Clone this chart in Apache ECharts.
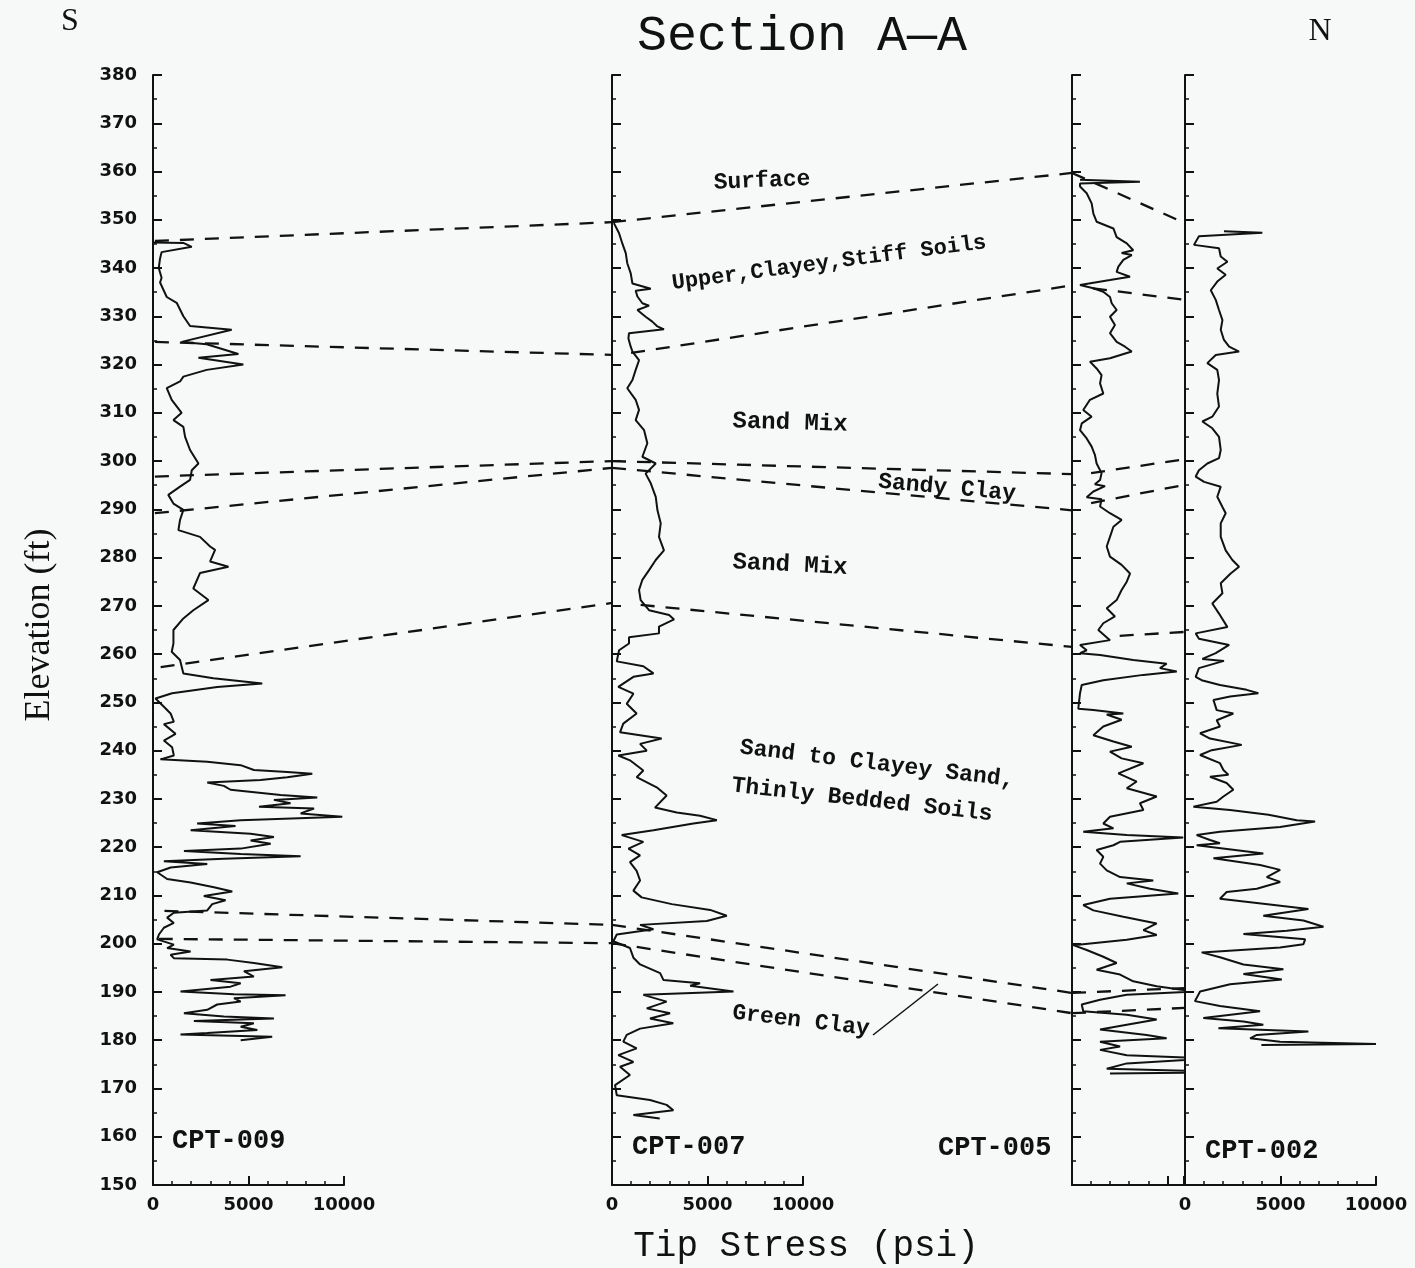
<!DOCTYPE html>
<html lang="en">
<head>
<meta charset="utf-8">
<title>Section A-A</title>
<script src="https://cdn.jsdelivr.net/npm/echarts@6/dist/echarts.min.js"></script>
<style>
html, body { margin: 0; padding: 0; background: #f7f8f8; }
#main { width: 1415px; height: 1268px; }
</style>
</head>
<body>
<div id="main"></div>
<script>
// logs, left to right (S -> N)
var logNames = ['CPT-009', 'CPT-007', 'CPT-005', 'CPT-002'];
var stressLabels = ['0', '5000', '10000'];
var elevMin = 150, elevMax = 380;

// [tip stress psi, elevation ft]
var cpt009 = [[0,345.3],[1590,345.2],[2030,344.4],[450,343.3],[370,342],[300,340],[450,338],[370,337],[720,334],[1240,332.8],[1590,330],[1940,328],[4120,327.2],[1500,324.7],[2810,324.2],[4470,322.2],[2380,321.4],[4730,320],[2810,318.9],[1590,317.5],[1415,316.5],[720,315.1],[980,312.7],[1500,310],[1070,308.5],[1590,307.1],[1680,305],[1940,302.3],[2380,299.5],[2030,298.1],[1940,296.1],[1415,294.7],[800,293],[1070,291.2],[1590,289.9],[1415,287.8],[1330,285.7],[2460,284.3],[2990,282.3],[3250,281.6],[2990,279.2],[3950,278.1],[2460,276.8],[2110,273.6],[2900,271.2],[2110,269.1],[1590,267.4],[1070,265],[1070,262.2],[980,260.5],[1415,258.8],[1590,256],[3160,255],[5720,253.9],[3360,253.2],[1000,251.9],[130,250.8],[570,249.1],[920,247.7],[1090,246],[570,245.5],[1180,243.5],[570,242.1],[1000,240.7],[1090,239],[390,238.2],[2840,237.7],[4590,237],[5280,236],[7030,235.6],[8340,235.2],[7030,234.5],[5630,233.9],[2840,233.4],[3710,232.7],[4060,231.9],[6680,230.8],[8600,230.3],[6330,229.8],[7200,229.1],[5550,228.4],[8430,228],[7730,227],[9910,226.3],[4590,225.6],[2310,224.9],[4320,224.4],[1970,223.5],[5110,222.8],[6330,222.1],[5110,221.4],[6160,220.7],[4590,219.7],[1620,219.2],[4590,218.6],[7730,218.1],[3710,217.6],[570,217.1],[2840,216.5],[920,215.8],[220,214.8],[740,213.4],[1970,212.7],[3190,211.7],[4150,210.8],[2660,209.9],[3800,209],[3100,208.2],[2840,206.9],[1090,206.4],[740,205.4],[1090,204.3],[570,203.3],[310,201.9],[220,200.9],[1090,199.8],[740,199.1],[1970,198.4],[920,197.7],[1090,197],[3890,196.7],[5280,196],[6770,195.1],[4760,194.3],[5280,193.2],[3010,192.5],[4590,191.8],[4060,191.1],[1440,190.1],[4240,189.5],[6940,189.3],[4240,188.7],[4590,188],[3360,187.4],[2840,186.3],[1620,185.6],[3710,184.9],[6330,184.5],[2140,184],[5280,183.5],[4590,182.8],[5460,182.1],[2840,181.5],[1440,181.2],[6240,180.7],[4590,180]];

var cpt007 = [[100,349.3],[370,347.2],[540,345.1],[720,343.1],[800,341],[980,338.9],[1070,336.8],[2030,335.7],[1240,335.3],[1330,334.1],[1590,332.7],[1940,332.2],[1330,331.3],[1760,329.9],[2110,328.9],[2380,327.9],[2720,327.3],[890,326.5],[860,325.4],[980,323.7],[1070,322.7],[1415,320.9],[1240,318.9],[1070,316.8],[800,315.1],[1240,312.7],[1415,310.6],[1240,308.5],[1680,306.4],[1850,303.7],[1590,300.9],[2290,299.5],[1760,297.4],[2030,295.4],[2290,292.6],[2380,289.8],[2550,287.1],[2460,284.3],[2720,281.5],[2290,279.5],[1940,277.4],[1590,275.4],[1415,273.3],[1500,271.2],[1940,269.1],[2990,268.1],[3250,267.2],[2460,265.7],[2460,264.3],[890,263.5],[890,262.2],[370,260.8],[280,259.1],[250,258.5],[1640,257.5],[2170,256],[1120,255.3],[330,253.2],[1120,251.8],[770,249.7],[1290,247.7],[590,245.6],[420,243.8],[2600,242.5],[1470,241.4],[1820,240],[330,239],[940,238],[1640,235.9],[1290,234.5],[2340,232.4],[2860,230.7],[2250,228.2],[3390,227.2],[4610,226.5],[5490,225.6],[4260,224.9],[2170,223.5],[510,222.5],[1640,221.1],[860,219.7],[1470,218.3],[940,216.9],[1290,215.1],[1470,213.1],[1120,211],[1550,209.6],[3130,208.2],[5140,207],[6010,205.8],[4960,204.7],[1470,203.9],[2170,203],[250,201.9],[70,200.5],[940,199.1],[1120,197.1],[1470,195.7],[2520,193.9],[2690,192.5],[4610,191.8],[4090,191.3],[6360,190.1],[1640,189.4],[2860,188],[1820,186.6],[3040,185.6],[1990,184.5],[3210,183.5],[1470,182.4],[770,181.1],[590,179.7],[1290,178.3],[330,176.9],[1120,175.5],[420,174.5],[940,172.8],[160,170.7],[250,168.6],[1990,167.6],[2860,166.6],[3210,165.5],[1120,164.5],[2500,163.8]];

var cpt005 = [[420,358.3],[3560,357.9],[420,357.5],[420,356.9],[770,355.5],[1030,353.4],[1120,351.3],[1290,349.6],[2170,348.2],[2340,346.4],[2870,345.1],[3210,343.7],[2600,343.1],[3130,342.7],[2690,341.7],[2430,340.3],[2340,339.2],[3040,338.2],[1990,337.5],[420,336.5],[1120,335.8],[1640,335.1],[1990,334],[2080,332.7],[2340,331.3],[1990,329.9],[2250,328.2],[1990,326.5],[2340,324.7],[2780,323.7],[3130,322.7],[1990,321.3],[940,320.6],[1290,319.2],[1550,317.8],[1470,316.1],[1640,314],[940,312.7],[590,310.6],[1030,309.2],[510,307.8],[420,306.4],[770,304.7],[1030,303],[1200,301.3],[1290,299.5],[1550,297.5],[1470,296.1],[1200,295.2],[1730,294.8],[1120,293.7],[770,292.5],[1550,292.1],[1470,290.6],[1990,289.2],[2600,287.8],[2170,286.4],[1990,284.3],[1820,282.3],[1990,280.2],[2600,278.5],[3040,276.7],[2870,275],[2600,273.3],[2340,271.2],[1820,269.5],[2250,267.8],[1640,266.4],[1380,265],[1990,262.9],[420,261.9],[770,260.8],[420,260.2],[1470,259.8],[3210,258.8],[4960,258],[4610,257.1],[5490,256.4],[3740,255.7],[1640,254.6],[510,253.6],[420,251.9],[330,248.7],[1120,248.4],[2690,247.7],[1820,247.5],[2600,246.4],[1640,245],[1120,243.2],[2170,241.9],[3130,240.8],[1990,239.8],[2600,238.4],[3740,237.4],[2430,235.3],[3390,233.6],[2870,232.2],[4440,230.5],[3560,229.1],[3740,227.7],[1990,226.3],[1640,224.9],[2170,223.9],[590,223.2],[2870,222.5],[5830,222],[2520,221.1],[2170,220.4],[1290,219.4],[1640,218],[1470,216.6],[1820,215.2],[2520,213.8],[4260,213.1],[2870,212.5],[4090,211.4],[5570,210.4],[1990,209.3],[590,208],[1120,206.9],[2690,205.6],[4440,204.2],[3740,202.8],[4440,201.8],[2870,200.8],[70,199.7],[770,198.7],[1640,197.3],[2340,196],[1290,194.6],[2520,193.6],[3210,192.2],[4440,191.2],[6360,190.1],[2870,189.4],[1470,188.4],[510,187.4],[590,186],[2870,185.3],[4440,184.3],[2870,183.2],[1470,182.2],[3910,181.1],[4960,180.4],[1470,179.7],[2520,178.7],[1470,178],[2870,176.9],[7230,176.2],[2870,175.2],[1820,174.1],[8380,173.4],[1990,173.1]];

var cpt002 = [[2040,347.6],[4050,347.3],[730,346.6],[470,344.8],[1780,344.1],[1870,342.4],[2220,341.3],[1690,339.9],[2130,338.6],[1690,337.2],[1350,335.4],[1610,333.4],[1780,331.3],[1960,329.2],[1870,327.2],[2040,325.1],[2310,323.7],[2830,322.7],[1610,322],[1170,320.3],[1690,318.9],[1780,316.8],[1690,314],[1780,311.3],[1430,309.2],[910,308.2],[1430,306.8],[1780,305],[1870,302.3],[1780,300.6],[1170,299.5],[730,298.1],[560,296.8],[1000,295.7],[1870,294.7],[1690,292.6],[1960,290.5],[2130,289.2],[1870,287.1],[1870,284.3],[2130,281.5],[2480,279.5],[2830,278.1],[2390,276.7],[1870,274.7],[1960,272.6],[1430,270.5],[1780,268.4],[2220,265.6],[560,264.3],[730,263.2],[2310,261.9],[1610,260.2],[910,259],[2040,258.6],[730,257.1],[560,255.3],[870,254.6],[1830,253.6],[3230,252.6],[3840,251.9],[2360,251.2],[1490,250.5],[1660,248.4],[2530,247.7],[1660,246.3],[1830,245],[790,243.6],[1310,242.5],[2970,241.2],[1400,240.1],[790,239.1],[1830,237.4],[2010,236],[2270,235],[1310,234.6],[2180,233.3],[2530,231.9],[2010,230.5],[1660,229.4],[440,228.4],[2360,227.7],[4370,226.7],[5850,225.6],[6810,225.3],[4980,224.2],[1830,223.2],[610,222.5],[1310,221.5],[1830,220.8],[610,220.4],[4100,218.7],[1490,217.7],[3930,216.3],[4980,215.3],[4280,213.8],[4980,212.8],[3760,211.4],[2180,210.7],[1830,209.3],[4100,208.3],[6460,207.2],[4100,205.8],[6200,204.8],[7250,203.5],[5330,202.7],[3060,202],[6290,200.9],[6200,199.9],[4980,199.2],[870,198.2],[1830,197.2],[3060,195.7],[5150,194.7],[3060,193.7],[5070,192.6],[2360,191.6],[790,190.1],[520,188.1],[1830,187.1],[3930,186],[960,184.6],[3060,183.9],[4100,183.2],[1750,182.5],[6460,181.8],[3760,181.1],[3410,180.4],[4980,179.7],[10000,179.2],[4000,179]];

var logData = [cpt009, cpt007, cpt005, cpt002];

// correlation lines: each segment = [[log, psi, elev], [log, psi, elev]]
var horizons = [
  [[0, 100, 345.6], [1, 0, 349.5]], [[1, 0, 349.5], [2, 0, 359.7]], [[2, 0, 359.7], [3, 0, 349.3]],
  [[0, 100, 324.7], [1, 0, 322.0]], [[1, 1000, 322.4], [2, 0, 336.4]], [[2, 1100, 335.8], [3, 0, 333.4]],
  [[0, 100, 296.8], [1, 0, 300.0]], [[1, 0, 300.0], [2, 0, 297.3]], [[2, 1000, 297.5], [3, 0, 300.4]],
  [[0, 100, 289.2], [1, 0, 298.6]], [[1, 0, 298.6], [2, 0, 289.8]], [[2, 1000, 291.3], [3, 0, 295.1]],
  [[0, 400, 257.3], [1, 0, 270.6]], [[1, 1500, 270.2], [2, 0, 261.5]], [[2, 2500, 263.8], [3, 0, 264.6]],
  [[0, 600, 206.8], [1, 0, 203.9]], [[1, 0, 203.9], [2, 0, 189.8]], [[2, 0, 189.8], [3, 0, 190.8]],
  [[0, 300, 201.0], [1, 0, 200.1]], [[1, 0, 200.1], [2, 0, 185.6]], [[2, 0, 185.6], [3, 0, 186.7]]
];

var chart = echarts.init(document.getElementById('main'));

var ink = '#111';
var grids = [
  {left: 153, top: 75, width: 191, height: 1110},
  {left: 612, top: 75, width: 191, height: 1110},
  {left: 1072, top: 75, width: 112, height: 1110},
  {left: 1185, top: 75, width: 191, height: 1110}
];
grids.forEach(function (g) { g.outerBoundsMode = 'none'; });

var xAxes = [], yAxes = [], series = [];
for (var i = 0; i < 4; i++) {
  xAxes.push({
    type: 'value', gridIndex: i, min: 0, max: i === 2 ? 5870 : 10000, interval: 5000,
    axisLine: {show: true, onZero: false, lineStyle: {color: ink, width: 2}},
    axisTick: {show: true, inside: true, length: 9, lineStyle: {color: ink, width: 2}},
    minorTick: {show: true, splitNumber: 5, length: 4, lineStyle: {color: ink, width: 1.5}},
    splitLine: {show: false},
    axisLabel: {
      show: i !== 2, margin: 11, color: ink, fontFamily: 'DejaVu Sans', fontWeight: 'bold', fontSize: 18,
      formatter: function (v) { return stressLabels.indexOf(String(v)) >= 0 ? String(v) : ''; }
    }
  });
  yAxes.push({
    type: 'value', gridIndex: i, min: elevMin, max: elevMax, interval: 10,
    axisLine: {show: true, onZero: false, lineStyle: {color: ink, width: 2}},
    axisTick: {show: true, inside: true, length: 9, lineStyle: {color: ink, width: 2}},
    minorTick: {show: true, splitNumber: 2, length: 4, lineStyle: {color: ink, width: 1.5}},
    splitLine: {show: false},
    axisLabel: {
      show: i === 0, margin: 16, color: ink, fontFamily: 'DejaVu Sans', fontWeight: 'bold', fontSize: 18,
      formatter: function (v) { return String(v); }
    }
  });
  series.push({
    name: logNames[i], type: 'line', xAxisIndex: i, yAxisIndex: i,
    data: logData[i], showSymbol: false, clip: false, animation: false,
    lineStyle: {color: ink, width: 2}
  });
}

chart.setOption({
  backgroundColor: '#f7f8f8',
  animation: false,
  grid: grids,
  xAxis: xAxes,
  yAxis: yAxes,
  series: series
});

// text and correlation lines
var monoB = '"Liberation Mono", "DejaVu Sans Mono", monospace';
function txt(s, x, y, font, rot, align) {
  return {type: 'text', x: x, y: y, rotation: rot || 0, z: 10,
    style: {text: s, font: font, fill: ink, align: align || 'center', verticalAlign: 'middle'}};
}
var g = [
  txt('Section A\u2014A', 802, 37, '50px ' + monoB),
  txt('Tip Stress (psi)', 806, 1246, '36px ' + monoB),
  txt('Elevation (ft)', 40, 625, '36px "Liberation Serif", serif', Math.PI / 2),
  txt('S', 70, 22, '32px "Liberation Serif", serif'),
  txt('N', 1320, 32, '32px "Liberation Serif", serif'),
  txt('Surface', 762, 181, 'bold 23px ' + monoB, 0.04),
  txt('Upper,Clayey,Stiff Soils', 829, 263, 'bold 22px ' + monoB, 0.13),
  txt('Sand Mix', 790, 423, 'bold 24px ' + monoB, -0.03),
  txt('Sandy Clay', 947, 488, 'bold 23px ' + monoB, -0.09),
  txt('Sand Mix', 790, 565, 'bold 24px ' + monoB, -0.05),
  txt('Sand to Clayey Sand,', 877, 764, 'bold 23px ' + monoB, -0.12),
  txt('Thinly Bedded Soils', 862, 800, 'bold 23px ' + monoB, -0.11),
  txt('Green Clay', 801, 1021, 'bold 23px ' + monoB, -0.12),
  txt(logNames[0], 172, 1141, 'bold 27px ' + monoB, 0, 'left'),
  txt(logNames[1], 632, 1147, 'bold 27px ' + monoB, 0, 'left'),
  txt(logNames[2], 938, 1148, 'bold 27px ' + monoB, 0, 'left'),
  txt(logNames[3], 1205, 1151, 'bold 27px ' + monoB, 0, 'left'),
  {type: 'line', z: 10, shape: {x1: 873, y1: 1035, x2: 938, y2: 984}, style: {stroke: ink, lineWidth: 1.5}}
];

horizons.forEach(function (s) {
  var a = chart.convertToPixel({xAxisIndex: s[0][0], yAxisIndex: s[0][0]}, [s[0][1], s[0][2]]);
  var b = chart.convertToPixel({xAxisIndex: s[1][0], yAxisIndex: s[1][0]}, [s[1][1], s[1][2]]);
  g.push({type: 'line', z: 10, shape: {x1: a[0], y1: a[1], x2: b[0], y2: b[1]},
    style: {stroke: ink, lineWidth: 2.3, lineDash: [14, 11]}});
});

chart.setOption({graphic: g});
</script>
</body>
</html>
